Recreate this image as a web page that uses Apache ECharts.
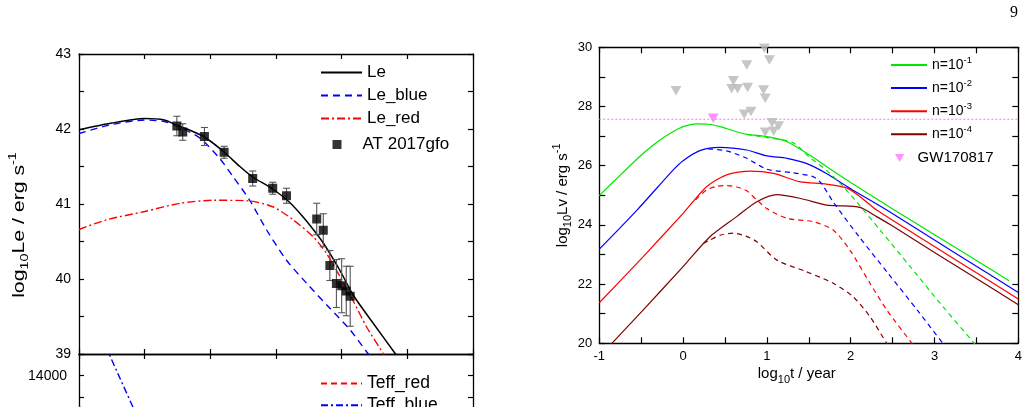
<!DOCTYPE html>
<html><head><meta charset="utf-8">
<script src="https://cdn.jsdelivr.net/npm/echarts@6/dist/echarts.min.js"></script>
<style>html,body{margin:0;padding:0;background:#fff}#c{width:1029px;height:407px}</style>
</head><body><div id="c"></div>
<script>
// ===== Left panel (upper): log10 Le vs time (x axis unlabeled, 0..6) =====
const leTotal = [[0,41.99],[0.5,42.08],[1.0,42.14],[1.3,42.12],[1.49,42.05],[1.7,41.98],[1.9,41.90],[2.2,41.70],[2.45,41.50],[2.645,41.36],[2.95,41.20],[3.21,41.02],[3.4,40.84],[3.55,40.68],[3.72,40.48],[3.97,40.12],[4.18,39.78],[4.48,39.41],[4.82,39.0],[4.9,38.9]];
const leBlue = [[0,41.94],[0.5,42.06],[1.0,42.12],[1.3,42.10],[1.52,42.03],[1.84,41.88],[2.14,41.61],[2.35,41.36],[2.60,41.05],[2.86,40.65],[3.16,40.25],[3.47,39.94],[3.82,39.61],[4.13,39.32],[4.38,39.03],[4.45,38.95]];
const leRed = [[0,40.66],[0.42,40.79],[1.0,40.90],[1.54,41.01],[2.05,41.05],[2.6,41.04],[2.96,40.96],[3.26,40.79],[3.57,40.56],[3.77,40.34],[3.97,40.04],[4.18,39.70],[4.38,39.36],[4.63,39.01],[4.7,38.9]];
const atX = [1.49,1.58,1.91,2.21,2.645,2.95,3.16,3.62,3.72,3.82,3.92,4.00,4.07,4.13];
const atY = [42.04,41.96,41.90,41.69,41.34,41.21,41.11,40.80,40.65,40.18,39.94,39.91,39.84,39.77];
const atErr = [0.13,0.11,0.12,0.08,0.10,0.08,0.10,0.21,0.22,0.20,0.32,0.36,0.33,0.40];
const leTicks = [39,40,41,42,43];

// ===== Left panel (lower): Teff =====
const teffRed = [[0,13290],[0.6,12600],[1.2,11900]];
const teffBlue = [[0.31,15000],[1.2,12000]];

// ===== Right panel: log10 Lv vs log10 t =====
const n1Solid = [[-1,24.99],[-0.75,25.68],[-0.475,26.42],[-0.3,26.82],[-0.156,27.09],[0,27.32],[0.16,27.41],[0.3,27.40],[0.44,27.32],[0.6,27.18],[0.76,27.06],[1.0,26.98],[1.24,26.81],[1.51,26.36],[1.71,25.97],[2.0,25.43],[2.51,24.52],[3.0,23.67],[3.5,22.80],[3.89,22.11]];
const n1Dash = [[0.76,27.06],[1.0,26.95],[1.31,26.78],[1.51,26.28],[1.71,25.85],[1.9,25.33],[2.07,24.78],[2.35,23.83],[2.71,22.59],[3.10,21.24],[3.46,20.05],[3.5,19.9]];
const n2Solid = [[-1,23.18],[-0.55,24.50],[-0.12,25.85],[0.0,26.17],[0.20,26.51],[0.44,26.62],[0.76,26.53],[1.0,26.33],[1.24,26.25],[1.47,26.08],[1.71,25.74],[2.0,25.22],[2.43,24.50],[3.0,23.49],[3.5,22.60],[4.0,21.72]];
const n2Dash = [[0.3,26.57],[0.52,26.50],[0.76,26.25],[1.0,25.88],[1.31,25.76],[1.55,25.63],[1.65,25.40],[1.79,24.78],[2.1,23.6],[2.45,22.35],[2.8,21.1],[3.1,20.0],[3.15,19.85]];
const n3Solid = [[-1,21.37],[-0.475,22.93],[0.0,24.39],[0.28,25.29],[0.52,25.69],[0.80,25.82],[1.08,25.74],[1.39,25.46],[1.71,25.38],[1.95,25.25],[2.1,24.98],[2.31,24.50],[3.0,23.27],[3.5,22.38],[4.0,21.50]];
const n3Dash = [[0.15,24.85],[0.28,25.18],[0.40,25.30],[0.52,25.33],[0.64,25.28],[0.76,25.15],[0.88,24.84],[1.0,24.55],[1.24,24.22],[1.55,24.11],[1.79,23.83],[1.99,23.15],[2.23,22.03],[2.43,21.13],[2.73,20.0],[2.78,19.8]];
const n4Solid = [[-1,19.55],[-0.85,20.0],[-0.475,21.13],[0.0,22.59],[0.32,23.60],[0.64,24.28],[0.88,24.78],[1.12,25.02],[1.39,24.90],[1.71,24.67],[1.83,24.65],[2.11,24.59],[2.31,24.28],[2.5,23.96],[3.0,23.07],[3.5,22.19],[4.0,21.30]];
const n4Dash = [[0.24,23.37],[0.32,23.49],[0.45,23.66],[0.60,23.72],[0.75,23.62],[0.88,23.43],[1.12,22.81],[1.47,22.42],[1.79,22.03],[2.03,21.57],[2.23,20.90],[2.43,20.0],[2.48,19.8]];
const upperLimits = [[-0.085,28.53],[0.60,28.87],[0.58,28.60],[0.65,28.60],[0.77,28.64],[0.76,29.40],[1.03,29.57],[0.96,28.56],[0.98,28.28],[0.73,27.74],[0.81,27.83],[1.06,27.45],[1.14,27.34],[0.98,27.13],[1.08,27.16],[0.97,29.97]];
const gw170817 = [[0.36,27.60]];
const gwLimit = 27.57;
const lvTicks = [20,22,24,26,28,30];
const tTicks = [-1,0,1,2,3,4];

const FONT = "'Liberation Sans', Arial, Helvetica, sans-serif";
const BLK = '#000';
const triPath = 'path://M0,0L10,0L5,8.66Z';
const sqPath = 'path://M0,0L10,0L10,10L0,10Z';

function frameAxis(extra) {
  return Object.assign({
    type: 'value',
    axisLine: {show: true, onZero: false, lineStyle: {color: BLK, width: 1.3}},
    axisTick: {show: true, inside: true, length: 5, lineStyle: {color: BLK, width: 1.2}},
    minorTick: {show: false},
    splitLine: {show: false},
    axisLabel: {show: false}
  }, extra);
}
const labelStyleL = {show: true, color: BLK, fontSize: 14, fontFamily: FONT, margin: 8};
const labelStyleR = {show: true, color: BLK, fontSize: 13, fontFamily: FONT, margin: 7};
const minorR = {show: true, splitNumber: 2, length: 6, lineStyle: {color: BLK, width: 1.2}};
const minorL = {show: true, splitNumber: 2, length: 5, lineStyle: {color: BLK, width: 1.2}};
const tickR = {show: true, inside: true, length: 6, lineStyle: {color: BLK, width: 1.2}};

const richSS = {
  sub: {fontSize: 11, verticalAlign: 'bottom', lineHeight: 11, fontFamily: FONT, color: BLK},
  sup: {fontSize: 11, verticalAlign: 'top', lineHeight: 11, fontFamily: FONT, color: BLK}
};

const atPts = atX.map((x, i) => [x, atY[i]]);
const atBars = atX.map((x, i) => [x, atY[i], atErr[i]]);
const gwLine = [[tTicks[0], gwLimit], [tTicks[tTicks.length - 1], gwLimit]];

function lineSeries(name, data, color, type, xi, yi, width) {
  return {
    name, type: 'line', data, xAxisIndex: xi, yAxisIndex: yi,
    symbol: 'none', showSymbol: false, smooth: 0.25, clip: true,
    lineStyle: {color, width: width || 1.3, type: type || 'solid'},
    itemStyle: {color}, silent: true, z: 3
  };
}
const noSym = {opacity: 0};

const option = {
  animation: false,
  backgroundColor: '#fff',
  textStyle: {fontFamily: FONT},
  grid: [
    {left: 79, top: 54, width: 394, height: 300, outerBoundsMode: 'none'},
    {left: 79, top: 354, width: 394, height: 108.5, outerBoundsMode: 'none'},
    {left: 599.3, top: 47.3, width: 419, height: 296, outerBoundsMode: 'none'}
  ],
  xAxis: [
    frameAxis({gridIndex: 0, min: 0, max: 6, interval: 1, position: 'bottom'}),
    frameAxis({gridIndex: 0, min: 0, max: 6, interval: 1, position: 'top'}),
    frameAxis({gridIndex: 1, min: 0, max: 6, interval: 1, position: 'top'}),
    frameAxis({gridIndex: 2, min: tTicks[0], max: tTicks[tTicks.length - 1], interval: 1, position: 'bottom',
      axisTick: tickR, minorTick: minorR, axisLabel: labelStyleR,
      name: 'log{sub|10}t / year', nameLocation: 'middle', nameGap: 20, nameMoveOverlap: false,
      nameTextStyle: {fontSize: 15, lineHeight: 22, color: BLK, fontFamily: FONT, rich: richSS, padding: [0, 24, 0, 0]}}),
    frameAxis({gridIndex: 2, min: tTicks[0], max: tTicks[tTicks.length - 1], interval: 1, position: 'top',
      axisTick: tickR, minorTick: minorR})
  ],
  yAxis: [
    frameAxis({gridIndex: 0, min: leTicks[0], max: leTicks[leTicks.length - 1], interval: 1, position: 'left',
      minorTick: minorL, axisLabel: labelStyleL}),
    frameAxis({gridIndex: 0, min: leTicks[0], max: leTicks[leTicks.length - 1], interval: 1, position: 'right',
      minorTick: minorL}),
    frameAxis({gridIndex: 1, min: 12000, max: 14500, interval: 500, position: 'left',
      axisLabel: Object.assign({}, labelStyleL, {margin: 12, formatter: v => (v % 1000 === 0 ? String(v) : '')})}),
    frameAxis({gridIndex: 1, min: 12000, max: 14500, interval: 500, position: 'right'}),
    frameAxis({gridIndex: 2, min: lvTicks[0], max: lvTicks[lvTicks.length - 1], interval: 2, position: 'left',
      axisTick: tickR, minorTick: minorR, axisLabel: Object.assign({}, labelStyleR, {margin: 7}),
      name: 'log{sub|10}Lv / erg s{sup|-1}', nameLocation: 'middle', nameGap: 22,
      nameTextStyle: {fontSize: 15, lineHeight: 22, color: BLK, fontFamily: FONT, rich: richSS}}),
    frameAxis({gridIndex: 2, min: lvTicks[0], max: lvTicks[lvTicks.length - 1], interval: 2, position: 'right',
      axisTick: tickR, minorTick: minorR})
  ],
  legend: [
    {data: ['Le', 'Le_blue', 'Le_red'], orient: 'vertical', left: 320, top: 64, padding: 0,
      itemWidth: 41, itemHeight: 14, itemGap: 6, selectedMode: false, itemStyle: noSym,
      textStyle: {fontSize: 17, lineHeight: 15, color: BLK, fontFamily: FONT}},
    {data: [{name: 'AT 2017gfo', icon: sqPath}], orient: 'vertical', left: 332.5, top: 136, padding: 0,
      itemWidth: 41, itemHeight: 9, selectedMode: false, symbolKeepAspect: true,
      textStyle: {fontSize: 17, lineHeight: 15, color: BLK, fontFamily: FONT}},
    {data: ['Teff_red'], orient: 'vertical', left: 320, top: 374.5, padding: 0,
      itemWidth: 41, itemHeight: 14, selectedMode: false, itemStyle: noSym,
      textStyle: {fontSize: 17.5, lineHeight: 14, color: BLK, fontFamily: FONT}},
    {data: ['Teff_blue'], orient: 'vertical', left: 320, top: 396.3, padding: 0,
      itemWidth: 41, itemHeight: 14, selectedMode: false, itemStyle: noSym,
      textStyle: {fontSize: 17.5, lineHeight: 14, color: BLK, fontFamily: FONT}},
    {data: ['n=10-1', 'n=10-2', 'n=10-3', 'n=10-4'], orient: 'vertical', left: 890, top: 55, padding: 0,
      itemWidth: 36, itemHeight: 14, itemGap: 3.1, selectedMode: false, itemStyle: noSym,
      formatter: name => 'n=10{sup|' + name.slice(4) + '}',
      textStyle: {fontSize: 14, lineHeight: 20, color: BLK, fontFamily: FONT,
        rich: {sup: {fontSize: 9.5, verticalAlign: 'top', lineHeight: 10, color: BLK, fontFamily: FONT}}}},
    {data: [{name: 'GW170817', icon: triPath}], orient: 'vertical', left: 895, top: 150.5, padding: 0,
      itemWidth: 26, itemHeight: 8, selectedMode: false, symbolKeepAspect: true,
      textStyle: {fontSize: 15, lineHeight: 9, color: BLK, fontFamily: FONT}}
  ],
  graphic: [
    {type: 'text', x: 1014, y: 13, style: {text: '9', fontSize: 16, fontFamily: "'Liberation Serif', 'DejaVu Serif', serif",
      fill: BLK, align: 'center', verticalAlign: 'middle'}},
    {type: 'text', x: 19, y: 225, rotation: Math.PI / 2, scaleX: 1.25, scaleY: 1,
      style: {text: 'log{sub|10}Le / erg s{sup|-1}', fontSize: 17, lineHeight: 24, fontFamily: FONT, fill: BLK,
        align: 'center', verticalAlign: 'middle',
        rich: {sub: {fontSize: 11.5, verticalAlign: 'bottom', lineHeight: 12, fontFamily: FONT, fill: BLK},
               sup: {fontSize: 11.5, verticalAlign: 'top', lineHeight: 12, fontFamily: FONT, fill: BLK}}}}
  ],
  series: [
    lineSeries('Le', leTotal, '#000000', 'solid', 0, 0, 1.5),
    lineSeries('Le_blue', leBlue, '#0000ff', [7, 5], 0, 0, 1.4),
    lineSeries('Le_red', leRed, '#ff0000', [8, 3, 2, 3], 0, 0, 1.4),
    {
      name: 'errbars', type: 'custom', xAxisIndex: 0, yAxisIndex: 0, data: atBars, z: 4, silent: true,
      encode: {x: 0, y: 1},
      renderItem: (params, api) => {
        const x = api.value(0), y = api.value(1), e = api.value(2);
        const t = api.coord([x, y + e]), b = api.coord([x, y - e]);
        const w = 3.5, st = {stroke: '#555', lineWidth: 1.1};
        return {type: 'group', children: [
          {type: 'line', shape: {x1: t[0], y1: t[1], x2: b[0], y2: b[1]}, style: st},
          {type: 'line', shape: {x1: t[0] - w, y1: t[1], x2: t[0] + w, y2: t[1]}, style: st},
          {type: 'line', shape: {x1: b[0] - w, y1: b[1], x2: b[0] + w, y2: b[1]}, style: st}
        ]};
      }
    },
    {name: 'AT 2017gfo', type: 'scatter', data: atPts, xAxisIndex: 0, yAxisIndex: 0,
      symbol: 'rect', symbolSize: 9, itemStyle: {color: '#000'}, z: 5, silent: true},
    lineSeries('Teff_red', teffRed, '#ff0000', [6, 4], 2, 2, 1.4),
    lineSeries('Teff_blue', teffBlue, '#0000ff', [7, 3, 2, 3], 2, 2, 1.4),
    Object.assign(lineSeries('gwline', gwLine, '#ff70ff', [2, 2], 3, 4, 1), {smooth: false, z: 2}),
    lineSeries('n=10-1', n1Solid, '#00e600', 'solid', 3, 4, 1.2),
    lineSeries('n=10-2', n2Solid, '#0000ff', 'solid', 3, 4, 1.2),
    lineSeries('n=10-3', n3Solid, '#ff0000', 'solid', 3, 4, 1.2),
    lineSeries('n=10-4', n4Solid, '#800000', 'solid', 3, 4, 1.2),
    lineSeries('n1d', n1Dash, '#00e600', [5, 4], 3, 4, 1.2),
    lineSeries('n2d', n2Dash, '#0000ff', [5, 4], 3, 4, 1.2),
    lineSeries('n3d', n3Dash, '#ff0000', [5, 4], 3, 4, 1.2),
    lineSeries('n4d', n4Dash, '#800000', [5, 4], 3, 4, 1.2),
    {name: 'limits', type: 'scatter', data: upperLimits, xAxisIndex: 3, yAxisIndex: 4,
      symbol: triPath, symbolSize: [11, 9.5], itemStyle: {color: '#b8b8b8'}, z: 4, silent: true, clip: true},
    {name: 'GW170817', type: 'scatter', data: gw170817, xAxisIndex: 3, yAxisIndex: 4,
      symbol: triPath, symbolSize: [11, 9.5], itemStyle: {color: '#ff77ff'}, z: 5, silent: true}
  ]
};
const chart = echarts.init(document.getElementById('c'), null, {renderer: 'canvas'});
chart.setOption(option);
</script>
</body></html>
